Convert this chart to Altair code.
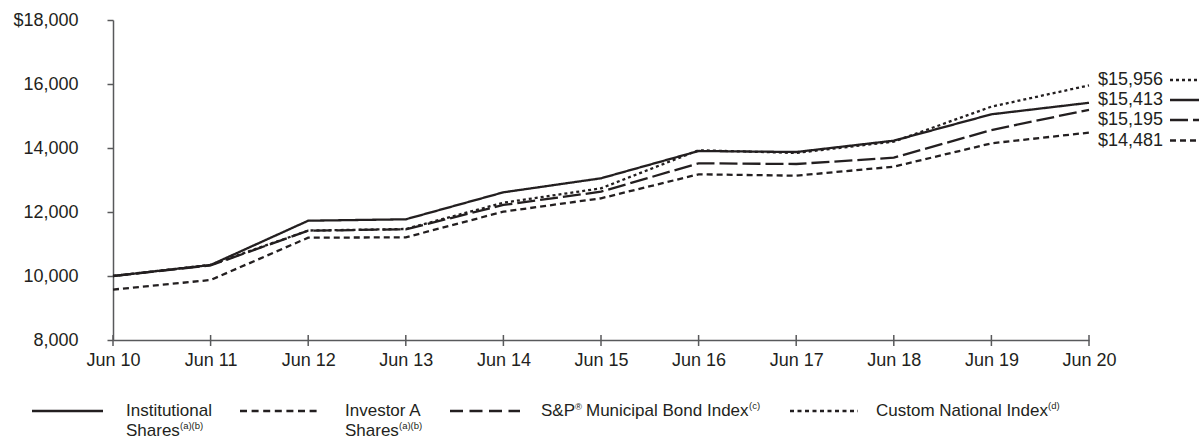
import altair as alt
import pandas as pd

# ---------------- data ----------------
dates = ["Jun 10", "Jun 11", "Jun 12", "Jun 13", "Jun 14", "Jun 15",
         "Jun 16", "Jun 17", "Jun 18", "Jun 19", "Jun 20"]
institutional = [10000, 10344, 11728, 11772, 12615, 13053, 13906, 13875, 14229, 15053, 15413]
investor_a = [9575, 9875, 11197, 11209, 12010, 12428, 13178, 13135, 13416, 14146, 14481]
sp_muni = [10000, 10330, 11416, 11459, 12220, 12635, 13521, 13500, 13697, 14562, 15195]
custom_national = [10000, 10350, 11420, 11470, 12290, 12740, 13930, 13845, 14200, 15292, 15956]

y_ticks = [8000, 10000, 12000, 14000, 16000, 18000]

series_names = ["Investor A Shares", "S&P Municipal Bond Index",
                "Institutional Shares", "Custom National Index"]
series_values = [investor_a, sp_muni, institutional, custom_national]

INK = "#231f20"
AXIS = "#58595b"
FONT = "Liberation Sans"

dash = {
    "Institutional Shares": [1, 0],
    "Investor A Shares": [6, 4],
    "S&P Municipal Bond Index": [18, 5],
    "Custom National Index": [3, 3],
}
# vertical nudges of the end-of-line value labels (style only)
end_dy = {
    "Custom National Index": -5,
    "Institutional Shares": -3,
    "S&P Municipal Bond Index": 10,
    "Investor A Shares": 8,
}

frames = []
for name, vals in zip(series_names, series_values):
    frames.append(pd.DataFrame({"date": dates, "value": vals, "series": name}))
df = pd.concat(frames, ignore_index=True)

x_enc = alt.X(
    "date:O", sort=dates, title=None,
    scale=alt.Scale(type="point", padding=0),
    axis=alt.Axis(labelAngle=0, labelAlign="center", labelBaseline="top",
                  ticks=False, tickSize=0, domainColor=AXIS,
                  domainWidth=1.5, labelFontSize=18, labelFont=FONT,
                  labelColor=INK, labelPadding=11, grid=False),
)
y_enc = alt.Y(
    "value:Q", title=None,
    scale=alt.Scale(domain=[8000, 18000], nice=False, zero=False),
    axis=alt.Axis(values=y_ticks, grid=False, tickSize=6, tickColor=AXIS,
                  tickWidth=1.5, domainColor=AXIS, domainWidth=1.5,
                  labelFontSize=18, labelFont=FONT, labelColor=INK,
                  labelPadding=29,
                  labelExpr="datum.value == 18000 ? '$18,000' : format(datum.value, ',')"),
)

layers = []

# x tick marks crossing the axis line
tick_df = pd.DataFrame({"date": dates})
layers.append(
    alt.Chart(tick_df).mark_rule(color=AXIS, strokeWidth=1.5).encode(
        x=alt.X("date:O", sort=dates), y=alt.value(315), y2=alt.value(326))
)

for name in series_names:
    sub = df[df["series"] == name]
    layers.append(
        alt.Chart(sub).mark_line(color=INK, strokeWidth=2.3,
                                 strokeDash=dash[name]).encode(x=x_enc, y=y_enc)
    )

# end labels
last = df[df["date"] == dates[-1]]
for name in series_names:
    sub = last[last["series"] == name]
    layers.append(
        alt.Chart(sub).mark_text(align="left", baseline="middle", dx=9,
                                 dy=end_dy[name], fontSize=18, font=FONT,
                                 color=INK).encode(
            x=alt.X("date:O", sort=dates), y=alt.Y("value:Q"),
            text=alt.Text("value:Q", format="$,.0f"))
    )

# small line samples after the end labels
sample_y = {
    "Custom National Index": 60,
    "Institutional Shares": 80,
    "S&P Municipal Bond Index": 100,
    "Investor A Shares": 120.5,
}
one = pd.DataFrame({"k": [0]})
for name in series_names:
    layers.append(
        alt.Chart(one).mark_rule(color=INK, strokeWidth=2.3,
                                 strokeDash=dash[name]).encode(
            x=alt.value(1057), x2=alt.value(1086), y=alt.value(sample_y[name]))
    )

# ---------------- manual legend ----------------
leg_y = 391
base1 = 396
base2 = 416
LF = 17


def seg(x0, x1, d):
    return alt.Chart(one).mark_rule(color=INK, strokeWidth=2.3, strokeDash=d).encode(
        x=alt.value(x0), x2=alt.value(x1), y=alt.value(leg_y))


def txt(s, x, y, size=LF):
    return alt.Chart(one).mark_text(text=s, align="left", baseline="alphabetic",
                                    fontSize=size, font=FONT, color=INK).encode(
        x=alt.value(x), y=alt.value(y))


layers += [
    seg(-81, -10, [1, 0]),
    txt("Institutional", 13, base1), txt("Shares", 13, base2), txt("(a)(b)", 67, base2 - 7, 9.5),
    seg(127, 208, [7, 4.6]),
    txt("Investor A", 232, base1), txt("Shares", 232, base2), txt("(a)(b)", 286, base2 - 7, 9.5),
    seg(337, 407, [13, 6.5]),
    txt("S&P", 428, base1), txt("®", 462, base1 - 6, 9.5),
    txt("Municipal Bond Index", 473, base1), txt("(c)", 636, base1 - 7, 9.5),
    seg(677, 745, [4, 3.5]),
    txt("Custom National Index", 763, base1), txt("(d)", 935, base1 - 7, 9.5),
]

chart = alt.layer(*layers).properties(
    width=976, height=320,
    autosize=alt.AutoSizeParams(type="none"),
    padding={"left": 113, "top": 20, "right": 112, "bottom": 98},
).configure(background="white", view=alt.ViewConfig(stroke=None))

chart.save("out.html", embed_options={"renderer": "svg", "actions": False})
